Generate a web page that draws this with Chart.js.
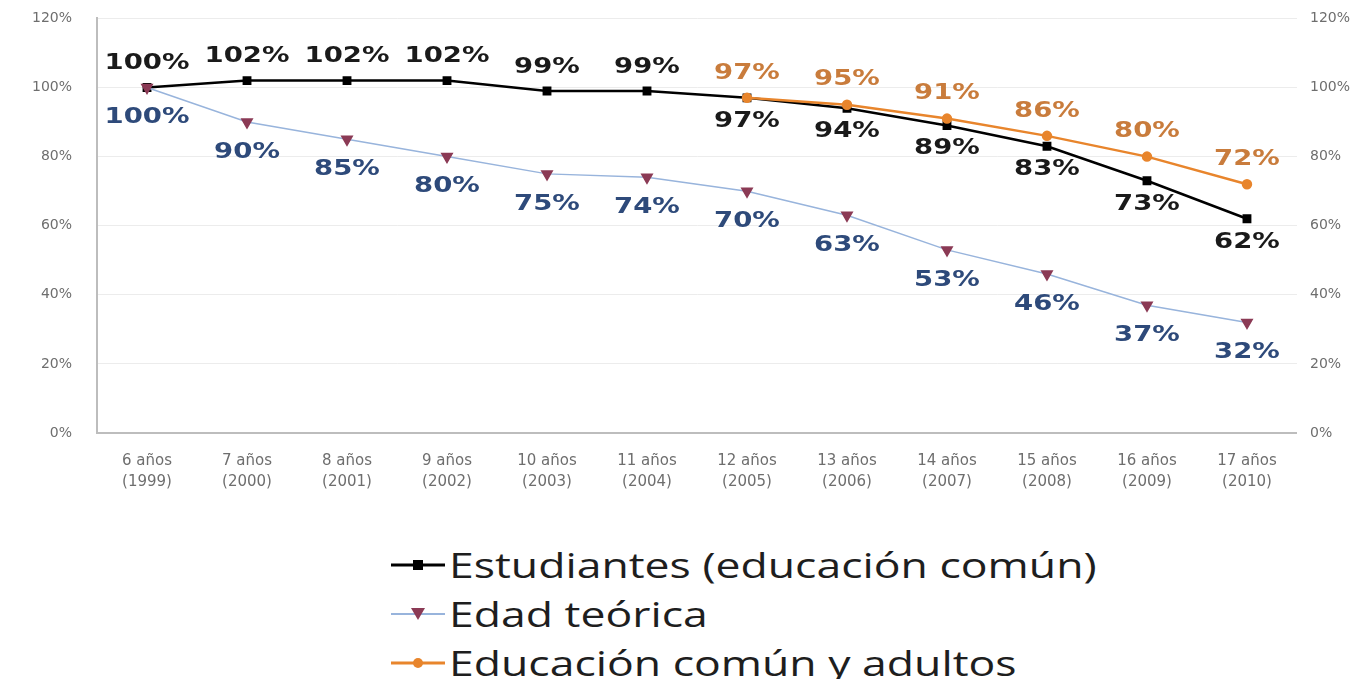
<!DOCTYPE html>
<html>
<head>
<meta charset="utf-8">
<script src="https://cdn.jsdelivr.net/npm/chart.js@4.4.0/dist/chart.umd.min.js"></script>
<style>
html, body { margin: 0; padding: 0; background: #fff; }
#wrap { position: relative; width: 1371px; height: 679px; overflow: hidden; }
#chartBox { position: absolute; left: 0; top: -15px; width: 1371px; height: 518px; }
#legend { position: absolute; left: 391px; top: 540px; font-family: "Open Sans", sans-serif; font-size: 34px; color: #1e1e1e; }
.row { display: flex; align-items: center; height: 49px; }
.row svg { margin-right: 4px; }
.row span { display: inline-block; transform: scaleX(1.31); transform-origin: left center; }
</style>
</head>
<body>
<div id="wrap">
  <div id="chartBox"><canvas id="chart"></canvas></div>
  <div id="legend"></div>
</div>
<script>
// categories (edad + año)
const categories = [
    ['6 años', '(1999)'], ['7 años', '(2000)'], ['8 años', '(2001)'], ['9 años', '(2002)'],
    ['10 años', '(2003)'], ['11 años', '(2004)'], ['12 años', '(2005)'], ['13 años', '(2006)'],
    ['14 años', '(2007)'], ['15 años', '(2008)'], ['16 años', '(2009)'], ['17 años', '(2010)']
];
const seriesNames = ['Estudiantes (educación común)', 'Edad teórica', 'Educación común y adultos'];
const estudiantes = [100, 102, 102, 102, 99, 99, 97, 94, 89, 83, 73, 62];
const edadTeorica = [100, 90, 85, 80, 75, 74, 70, 63, 53, 46, 37, 32];
const comunAdultos = [null, null, null, null, null, null, 97, 95, 91, 86, 80, 72];
const yMin = 0, yMax = 120, yStep = 20;

const labelStretch = 1.25;

// draws the value labels next to each point (text slightly stretched like the original)
const pointLabels = {
    id: 'pointLabels',
    afterDatasetsDraw(chart) {
        const ctx = chart.ctx;
        chart.data.datasets.forEach((ds, i) => {
            const meta = chart.getDatasetMeta(i);
            const lbl = ds.valueLabel;
            if (!lbl) return;
            meta.data.forEach((pt, j) => {
                const v = ds.data[j];
                if (v == null) return;
                ctx.save();
                ctx.font = lbl.font;
                ctx.fillStyle = lbl.color;
                ctx.textAlign = 'center';
                ctx.textBaseline = 'middle';
                ctx.translate(pt.x, pt.y + lbl.offset(j));
                ctx.scale(labelStretch, 1);
                ctx.fillText(v + '%', 0, 0);
                ctx.restore();
            });
        });
    }
};

const tickFont = { family: 'DejaVu Sans', size: 14 };

const ctx = document.getElementById('chart').getContext('2d');
const chart = new Chart(ctx, {
    type: 'line',
    data: {
        labels: categories,
        datasets: [
            {
                label: seriesNames[0], data: estudiantes, order: 2,
                borderColor: '#000', backgroundColor: '#000', borderWidth: 2.5,
                pointStyle: 'rect', pointRadius: 4.5, pointHoverRadius: 4.5, tension: 0,
                valueLabel: { font: 'bold 22px "DejaVu Sans", sans-serif', color: '#1a1a1a', offset: j => j < 6 ? -24 : 23 }
            },
            {
                label: seriesNames[1], data: edadTeorica, order: 0,
                borderColor: '#98b4dc', backgroundColor: '#8b3a55', pointBorderColor: '#8b3a55', borderWidth: 1.5,
                pointStyle: 'triangle', rotation: 180, pointRadius: 6, pointHoverRadius: 6, tension: 0,
                valueLabel: { font: '600 22px "DejaVu Sans", sans-serif', color: '#2e4a7a', offset: j => 30 }
            },
            {
                label: seriesNames[2], data: comunAdultos, order: 1,
                borderColor: '#e8852c', backgroundColor: '#e8852c', borderWidth: 2.5,
                pointStyle: 'circle', pointRadius: 4, pointHoverRadius: 4, tension: 0,
                valueLabel: { font: '600 22px "DejaVu Sans", sans-serif', color: '#c97c3c', offset: j => -25 }
            }
        ]
    },
    options: {
        responsive: true,
        maintainAspectRatio: false,
        animation: false,
        layout: { padding: { top: 0, left: 7, right: 8, bottom: 0 } },
        plugins: { legend: { display: false }, tooltip: { enabled: false } },
        scales: {
            x: {
                offset: true,
                grid: { display: false },
                border: { display: true, color: '#bdbdbd', width: 2 },
                ticks: { color: '#6e6e6e', font: { family: 'DejaVu Sans', size: 15, lineHeight: 1.4 }, padding: 10, maxRotation: 0, autoSkip: false }
            },
            y: {
                position: 'left', min: yMin, max: yMax,
                grid: { color: '#ececec', drawTicks: false },
                border: { display: true, color: '#bdbdbd', width: 2 },
                ticks: { stepSize: yStep, color: '#6e6e6e', font: tickFont, padding: 25, callback: v => v + '%' }
            },
            y2: {
                position: 'right', min: yMin, max: yMax,
                grid: { display: false, drawTicks: false },
                border: { display: false },
                ticks: { stepSize: yStep, color: '#6e6e6e', font: tickFont, padding: 13, callback: v => v + '%' }
            }
        }
    },
    plugins: [pointLabels]
});

// legend, one series per row
const markers = [
    '<svg width="54" height="20"><line x1="0" y1="10" x2="54" y2="10" stroke="#000" stroke-width="3"/><rect x="22" y="5" width="10" height="10" fill="#000"/></svg>',
    '<svg width="54" height="20"><line x1="0" y1="10" x2="54" y2="10" stroke="#98b4dc" stroke-width="2"/><polygon points="20,4 34,4 27,16" fill="#8b3a55"/></svg>',
    '<svg width="54" height="20"><line x1="0" y1="10" x2="54" y2="10" stroke="#e8852c" stroke-width="3"/><circle cx="27" cy="10" r="5" fill="#e8852c"/></svg>'
];
document.getElementById('legend').innerHTML = seriesNames
    .map((name, i) => '<div class="row">' + markers[i] + '<span>' + name + '</span></div>')
    .join('');
</script>
</body>
</html>
